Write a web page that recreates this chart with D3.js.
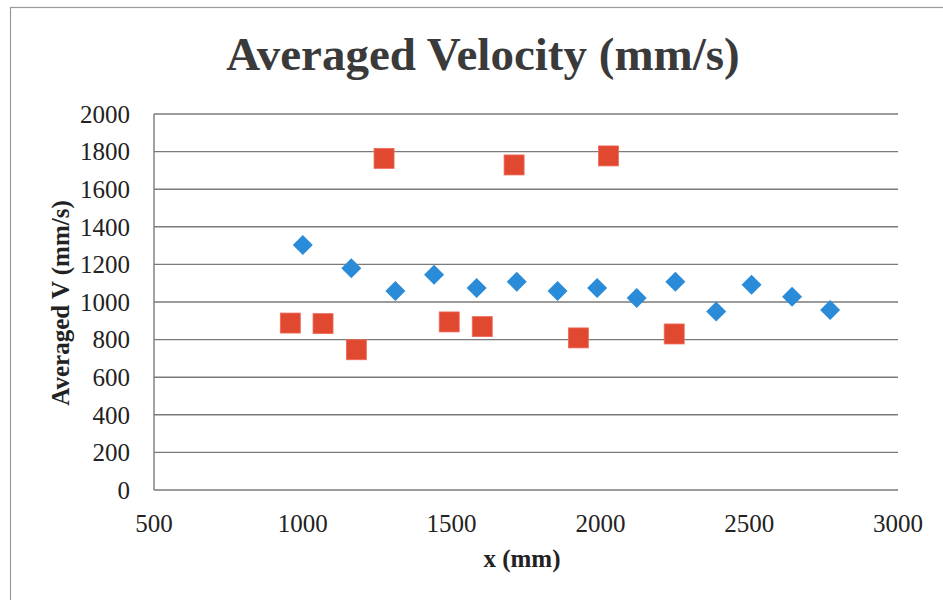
<!DOCTYPE html>
<html>
<head>
<meta charset="utf-8">
<script src="https://cdn.jsdelivr.net/npm/d3@7"></script>
<style>
  body { margin: 0; background: #fff; }
  svg { display: block; font-family: "Liberation Serif", "Times New Roman", serif; }
</style>
</head>
<body>
<div class="graphic"></div>
<script>
// averaged velocity per position, two runs
var blueX = [1000, 1163, 1311, 1441, 1584, 1719, 1856, 1989, 2122, 2252, 2389, 2508, 2644, 2772]
var blueV = [1303, 1179, 1058, 1145, 1074, 1108, 1058, 1074, 1021, 1108, 950, 1092, 1028, 957]

var redX = [958, 1068, 1180, 1273, 1492, 1603, 1710, 1926, 2027, 2248]
var redV = [888, 885, 746, 1764, 894, 869, 1729, 809, 1777, 830]

var xTicks = [500, 1000, 1500, 2000, 2500, 3000]
var yTicks = [0, 200, 400, 600, 800, 1000, 1200, 1400, 1600, 1800, 2000]

var width = 943
var height = 600
var margin = {left: 154, right: 45, top: 114, bottom: 110}

var svg = d3.select('.graphic').append('svg')
    .attr('width', width)
    .attr('height', height)

// scanned page frame
svg.append('rect')
    .attr('x', 10.5).attr('y', 7.5)
    .attr('width', 960).attr('height', 620)
    .attr('fill', 'none')
    .attr('stroke', '#9a9a9a')
    .attr('stroke-width', 1.2)

var x = d3.scaleLinear().domain([500, 3000]).range([margin.left, width - margin.right])
var y = d3.scaleLinear().domain([0, 2000]).range([height - margin.bottom, margin.top])

// horizontal gridlines
svg.append('g')
    .selectAll('line')
    .data(yTicks)
    .join('line')
    .attr('x1', x(500)).attr('x2', x(3000))
    .attr('y1', d => y(d)).attr('y2', d => y(d))
    .attr('stroke', '#7a7a7a')
    .attr('stroke-width', 1.4)

// left axis line
svg.append('line')
    .attr('x1', x(500)).attr('x2', x(500))
    .attr('y1', y(0)).attr('y2', y(2000))
    .attr('stroke', '#7a7a7a')
    .attr('stroke-width', 1.4)

svg.append('g').selectAll('text')
    .data(yTicks)
    .join('text')
    .attr('x', x(500) - 24)
    .attr('y', d => y(d))
    .attr('dy', '0.35em')
    .attr('text-anchor', 'end')
    .attr('font-size', 25)
    .attr('fill', '#222')
    .text(d => d)

svg.append('g').selectAll('text')
    .data(xTicks)
    .join('text')
    .attr('x', d => x(d))
    .attr('y', y(0) + 42)
    .attr('text-anchor', 'middle')
    .attr('font-size', 25)
    .attr('fill', '#222')
    .text(d => d)

// titles
svg.append('text')
    .attr('x', 483).attr('y', 70)
    .attr('text-anchor', 'middle')
    .attr('font-size', 47)
    .attr('font-weight', 'bold')
    .attr('fill', '#3a3a3a')
    .text('Averaged Velocity (mm/s)')

svg.append('text')
    .attr('x', 522).attr('y', 567)
    .attr('text-anchor', 'middle')
    .attr('font-size', 25)
    .attr('font-weight', 'bold')
    .attr('fill', '#222')
    .text('x (mm)')

svg.append('text')
    .attr('transform', 'translate(69,303) rotate(-90)')
    .attr('text-anchor', 'middle')
    .attr('font-size', 25)
    .attr('font-weight', 'bold')
    .attr('fill', '#222')
    .text('Averaged V (mm/s)')

// blue diamonds
var blue = blueX.map((d, i) => [d, blueV[i]])
svg.append('g')
    .selectAll('path')
    .data(blue)
    .join('path')
    .attr('d', 'M0,-10L10,0L0,10L-10,0Z')
    .attr('transform', d => 'translate(' + x(d[0]) + ',' + y(d[1]) + ')')
    .attr('fill', '#2a8bd8')

// red squares
var red = redX.map((d, i) => [d, redV[i]])
svg.append('g')
    .selectAll('rect')
    .data(red)
    .join('rect')
    .attr('x', d => x(d[0]) - 10)
    .attr('y', d => y(d[1]) - 10)
    .attr('width', 20)
    .attr('height', 20)
    .attr('fill', '#e0482f')
    .attr('stroke', '#f06a5c')
    .attr('stroke-width', 0.8)
</script>
</body>
</html>
